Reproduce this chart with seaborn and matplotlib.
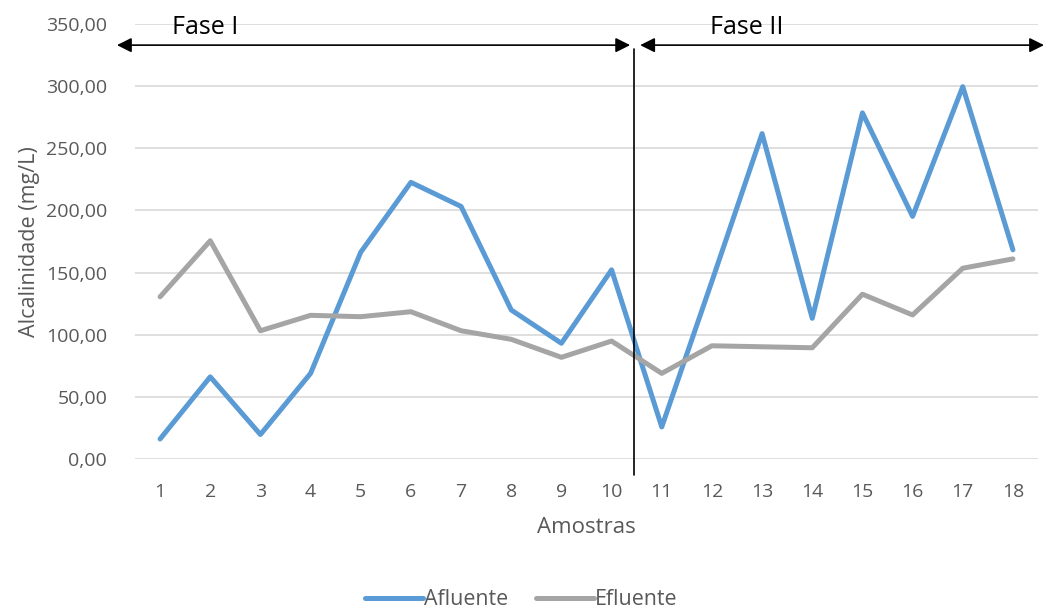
import matplotlib
matplotlib.use("Agg")
import matplotlib.pyplot as plt
import seaborn as sns
import pandas as pd

# Sample numbers and alkalinity readings (mg/L)
amostras = list(range(1, 19))
afluente = [16.1, 66.1, 19.7, 68.9, 166.4, 222.6, 203.2, 119.9, 93.1, 152.2,
            25.8, 143.0, 261.8, 113.2, 278.5, 195.2, 299.6, 168.3]
efluente = [130.5, 175.6, 103.2, 115.6, 114.5, 118.5, 103.2, 96.3, 81.8, 94.9,
            68.9, 91.1, 90.3, 89.5, 132.6, 115.9, 153.5, 161.0]
series_names = ["Afluente", "Efluente"]
yticks = [0, 50, 100, 150, 200, 250, 300, 350]
fase_labels = ["Fase I", "Fase II"]

df = pd.DataFrame({
    "Amostra": amostras * 2,
    "Alcalinidade": afluente + efluente,
    "Serie": [series_names[0]] * len(amostras) + [series_names[1]] * len(amostras),
})

sns.set_style("white")
plt.rcParams["font.family"] = ["Open Sans", "DejaVu Sans"]

fig = plt.figure(figsize=(10.43, 6.08), dpi=100)
ax = fig.add_axes([135 / 1043, 1 - 459 / 608, (1038 - 135) / 1043, (459 - 24) / 608])

palette = {"Afluente": "#5B9BD5", "Efluente": "#A5A5A5"}
sns.lineplot(data=df, x="Amostra", y="Alcalinidade", hue="Serie",
             palette=palette, linewidth=3.6, ax=ax, legend=False,
             solid_capstyle="round", solid_joinstyle="round", zorder=3)

ax.set_xlim(0.5, 18.5)
ax.set_ylim(0, 350)
ax.set_yticks(yticks)
ax.set_yticklabels([f"{v:.2f}".replace(".", ",") for v in yticks])
ax.set_xticks(amostras)
ax.set_xticklabels([str(a) for a in amostras])
ax.tick_params(axis="both", length=0, labelsize=14, labelcolor="#595959")
ax.tick_params(axis="x", pad=17)
ax.tick_params(axis="y", pad=20)
ax.yaxis.grid(True, color="#D9D9D9", linewidth=1.2)
ax.set_axisbelow(True)
for s in ax.spines.values():
    s.set_visible(False)

ax.set_xlabel("Amostras", fontsize=16, color="#595959", labelpad=12)
ax.set_ylabel("Alcalinidade (mg/L)", fontsize=15.5, color="#595959", labelpad=4)

# Phase separator and phase arrows
ax.plot([10.45, 10.45], [-13, 330], color="black", lw=1.2, clip_on=False, zorder=4)
arrow_kw = dict(arrowstyle="<|-|>", color="black", lw=1.2, mutation_scale=22,
                shrinkA=0, shrinkB=0)
ax.annotate("", xy=(0.14, 333), xytext=(10.37, 333), arrowprops=arrow_kw,
            annotation_clip=False)
ax.annotate("", xy=(10.57, 333), xytext=(18.62, 333), arrowprops=arrow_kw,
            annotation_clip=False)
ax.text(1.9, 347, fase_labels[0], fontsize=18, ha="center", va="center",
        color="black", clip_on=False)
ax.text(12.7, 347, fase_labels[1], fontsize=18, ha="center", va="center",
        color="black", clip_on=False)

handles = [plt.Line2D([], [], color=palette[n], lw=3.6, solid_capstyle="round")
           for n in series_names]
fig.legend(handles, series_names, loc="lower center", ncol=2, frameon=False,
           fontsize=15.4, labelcolor="#595959", handlelength=2.7,
           handletextpad=0.05, columnspacing=1.3, bbox_to_anchor=(0.5, -0.035))

fig.savefig("out.png", dpi=100)
